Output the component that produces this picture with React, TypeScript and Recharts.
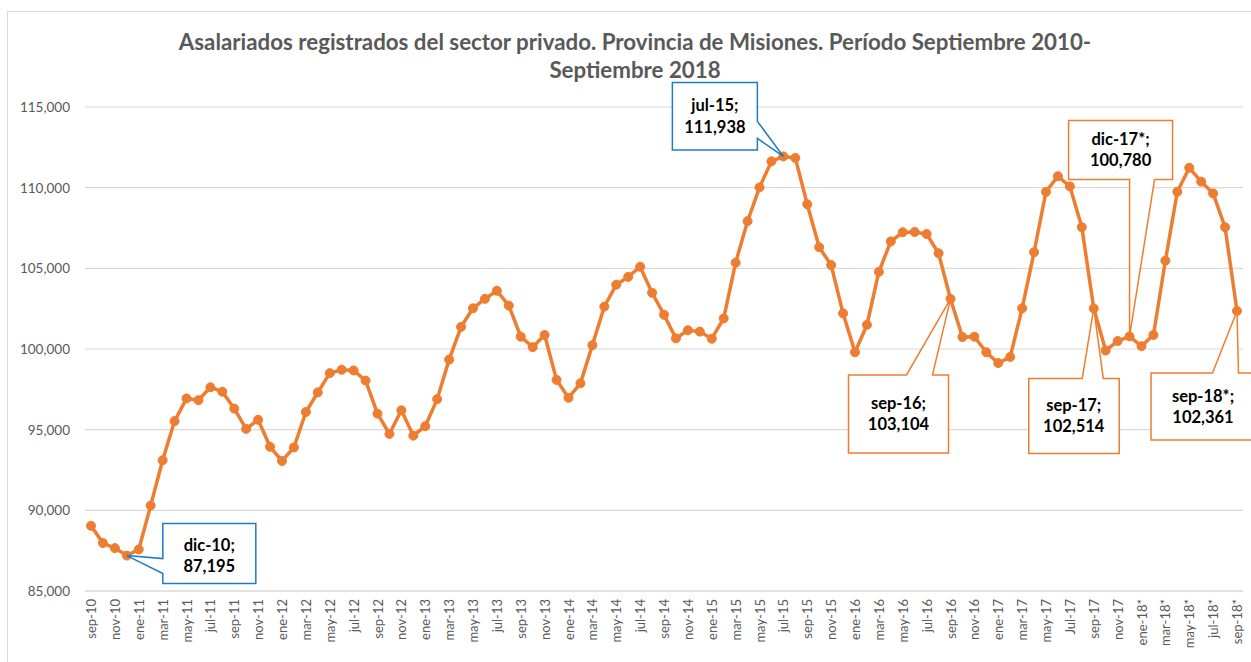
import React from 'react';
import { LineChart, Line, XAxis, YAxis, CartesianGrid, ReferenceDot } from 'recharts';

const categories = [
  'sep-10', 'oct-10', 'nov-10', 'dic-10',
  'ene-11', 'feb-11', 'mar-11', 'abr-11', 'may-11', 'jun-11', 'jul-11', 'ago-11', 'sep-11', 'oct-11', 'nov-11', 'dic-11',
  'ene-12', 'feb-12', 'mar-12', 'abr-12', 'may-12', 'jun-12', 'jul-12', 'ago-12', 'sep-12', 'oct-12', 'nov-12', 'dic-12',
  'ene-13', 'feb-13', 'mar-13', 'abr-13', 'may-13', 'jun-13', 'jul-13', 'ago-13', 'sep-13', 'oct-13', 'nov-13', 'dic-13',
  'ene-14', 'feb-14', 'mar-14', 'abr-14', 'may-14', 'jun-14', 'jul-14', 'ago-14', 'sep-14', 'oct-14', 'nov-14', 'dic-14',
  'ene-15', 'feb-15', 'mar-15', 'abr-15', 'may-15', 'jun-15', 'jul-15', 'ago-15', 'sep-15', 'oct-15', 'nov-15', 'dic-15',
  'ene-16', 'feb-16', 'mar-16', 'abr-16', 'may-16', 'jun-16', 'jul-16', 'ago-16', 'sep-16', 'oct-16', 'nov-16', 'dic-16',
  'ene-17', 'feb-17', 'mar-17', 'abr-17', 'may-17', 'jun-17', 'Jul-17', 'ago-17', 'sep-17', 'oct-17', 'nov-17', 'dic-17*',
  'ene-18*', 'feb-18*', 'mar-18*', 'abr-18*', 'may-18*', 'jun-18*', 'jul-18*', 'ago-18*', 'sep-18*',
];

const values = [
  89040, 87973, 87659, 87195,
  87575, 90297, 93102, 95531, 96933, 96830, 97624, 97352, 96305, 95049, 95614, 93940,
  93060, 93898, 96096, 97310, 98503, 98712, 98670, 98043, 95991, 94735, 96200, 94630,
  95216, 96891, 99340, 101371, 102523, 103109, 103611, 102690, 100764, 100115, 100869, 98085,
  96975, 97875, 100240, 102627, 103988, 104470, 105098, 103486, 102125, 100659, 101162, 101078,
  100638, 101894, 105349, 107924, 110018, 111630, 111938, 111839, 108971, 106312, 105202, 102209,
  99801, 101497, 104784, 106668, 107233, 107254, 107128, 105935, 103104, 100743, 100764, 99801,
  99131, 99508, 102523, 105998, 109745, 110708, 110080, 107547, 102514, 99906, 100492, 100780,
  100178, 100869, 105474, 109745, 111232, 110374, 109641, 107547, 102361,
];

const yTicks = [85000, 90000, 95000, 100000, 105000, 110000, 115000];

const titleLines = [
  'Asalariados registrados del sector privado. Provincia de Misiones. Período Septiembre 2010-',
  'Septiembre 2018',
];

const calloutIndices = [3, 58, 72, 84, 87, 96];

const data = categories.map((m, i) => ({ m, v: values[i] }));

const fmt = (n: number) => n.toLocaleString('en-US');

const ORANGE = '#ED7D31';
const BLUE = '#1F7BC9';
const GREY = '#595959';
const FONT = 'Lato, "Open Sans", sans-serif';

type Layout = {
  color: string;
  box: [number, number, number, number]; // left, top, right, bottom relative to point
  side: 'left' | 'right' | 'top' | 'bottom';
  base: [number, number];
  text: [number, number, number]; // dx, dy line1, dy line2
};

const calloutLayout: Record<number, Layout> = {
  3: { color: BLUE, box: [36, -32, 129, 28], side: 'left', base: [3, 18], text: [82.5, -11, 10] },
  58: { color: BLUE, box: [-111, -74, -26, -6.5], side: 'right', base: [-35, -18], text: [-68.5, -51, -29] },
  72: { color: ORANGE, box: [-102, 76, -2, 154], side: 'top', base: [-44, -18], text: [-52, 104.5, 125.5] },
  84: { color: ORANGE, box: [-65, 70, 25.5, 145], side: 'top', base: [-11.5, 9.5], text: [-20, 97, 118] },
  87: { color: ORANGE, box: [-61, -216, 43, -157], side: 'bottom', base: [0, 25], text: [-9, -197, -176] },
  96: { color: ORANGE, box: [-86, 62, 18, 129], side: 'top', base: [-24.5, 1.5], text: [-34, 85, 106] },
};

function calloutPath(cx: number, cy: number, L: Layout) {
  const [l, t, r, b] = L.box;
  const x0 = cx + l, x1 = cx + r, y0 = cy + t, y1 = cy + b;
  const [a, c] = L.base;
  const pts: [number, number][] = [];
  pts.push([x0, y0]);
  if (L.side === 'top') { pts.push([cx + a, y0], [cx, cy], [cx + c, y0]); }
  pts.push([x1, y0]);
  if (L.side === 'right') { pts.push([x1, cy + a], [cx, cy], [x1, cy + c]); }
  pts.push([x1, y1]);
  if (L.side === 'bottom') { pts.push([cx + c, y1], [cx, cy], [cx + a, y1]); }
  pts.push([x0, y1]);
  if (L.side === 'left') { pts.push([x0, cy + c], [cx, cy], [x0, cy + a]); }
  return 'M' + pts.map((p) => `${p[0]},${p[1]}`).join('L') + 'Z';
}

function makeCallout(idx: number) {
  const L = calloutLayout[idx];
  return (props: any) => {
    const { cx, cy } = props;
    if (cx == null || cy == null) return <g />;
    return (
      <g>
        <path d={calloutPath(cx, cy, L)} fill="#FFFFFF" stroke={L.color} strokeWidth={1.5} />
        <text x={cx + L.text[0]} y={cy + L.text[1]} textAnchor="middle" dominantBaseline="central"
          fontFamily={FONT} fontWeight={700} fontSize={16.5} fill="#000000">{categories[idx] + ';'}</text>
        <text x={cx + L.text[0]} y={cy + L.text[2]} textAnchor="middle" dominantBaseline="central"
          fontFamily={FONT} fontWeight={700} fontSize={16.5} fill="#000000">{fmt(values[idx])}</text>
      </g>
    );
  };
}

const XTick = (props: any) => {
  const { x, y, payload } = props;
  return (
    <text transform={`translate(${x},${y + 8}) rotate(-90)`} textAnchor="end" dominantBaseline="central"
      fill={GREY} fontSize={13} fontFamily={FONT}>{payload.value}</text>
  );
};

const YTick = (props: any) => {
  const { x, y, payload } = props;
  return (
    <text x={x - 15} y={y} textAnchor="end" dominantBaseline="central" fill={GREY} fontSize={13.5} fontFamily={FONT}>
      {fmt(payload.value)}
    </text>
  );
};

export default function App() {
  return (
    <div style={{ position: 'relative', width: 1251, height: 662, background: '#fff', overflow: 'hidden' }}>
      <style>{'body{margin:0;}'}</style>
      <svg width={1251} height={662} style={{ position: 'absolute', left: 0, top: 0 }}>
        <rect x={7.5} y={11.5} width={1300} height={700} fill="#fff" stroke="#D9D9D9" strokeWidth={1} />
        <text x={635} y={50} textAnchor="middle" fontFamily={FONT} fontWeight={700} fontSize={22.3} fill={GREY}>{titleLines[0]}</text>
        <text x={635} y={78} textAnchor="middle" fontFamily={FONT} fontWeight={700} fontSize={22.3} fill={GREY}>{titleLines[1]}</text>
      </svg>
      <div style={{ position: 'absolute', left: 0, top: 0 }}>
        <LineChart width={1251} height={662} data={data} margin={{ top: 107, right: 8, bottom: 11, left: 0 }}>
          <CartesianGrid horizontal vertical={false} stroke="#D9D9D9" strokeWidth={1.2} />
          <XAxis dataKey="m" interval={1} tick={<XTick />} tickLine={false} tickSize={0} tickMargin={0}
            axisLine={{ stroke: '#D9D9D9', strokeWidth: 1.2 }} height={60} padding={{ left: 6, right: 6 }} />
          <YAxis domain={[85000, 115000]} ticks={yTicks} tick={<YTick />} tickLine={false} tickSize={0} tickMargin={0}
            axisLine={false} width={85} allowDataOverflow />
          <Line type="linear" dataKey="v" stroke={ORANGE} strokeWidth={3.5} isAnimationActive={false}
            dot={{ r: 4.5, fill: ORANGE, stroke: ORANGE, strokeWidth: 1 }} activeDot={false} />
          {calloutIndices.map((idx) => (
            <ReferenceDot key={idx} x={categories[idx]} y={values[idx]} r={0} ifOverflow="visible"
              shape={makeCallout(idx)} />
          ))}
        </LineChart>
      </div>
    </div>
  );
}
